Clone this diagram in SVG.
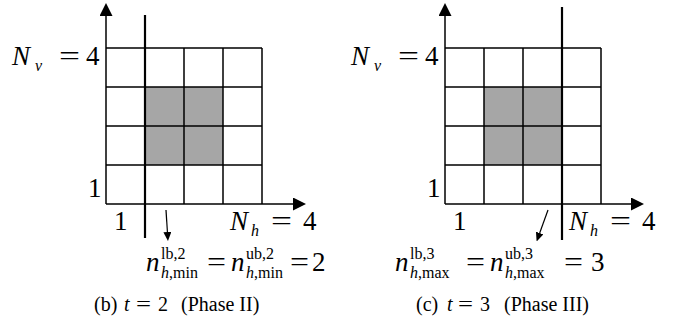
<svg xmlns="http://www.w3.org/2000/svg" width="681" height="323" viewBox="0 0 681 323">
<style>
.grid{fill:none;stroke:#000;stroke-width:1.5}
.shade{fill:#a6a6a6;stroke:none}
.axis{fill:none;stroke:#000;stroke-width:1.5}
.thick{fill:none;stroke:#000;stroke-width:2.2}
.ptr{fill:none;stroke:#000;stroke-width:1.2}
.m{font-family:"Liberation Serif","Times New Roman",serif;font-size:27px;fill:#000}
.i{font-style:italic}
.s{font-size:16px}
.cap{font-family:"Liberation Serif","Times New Roman",serif;font-size:20px;fill:#000}
</style>
<defs>
<marker id="ah" markerUnits="userSpaceOnUse" markerWidth="13" markerHeight="13" refX="0" refY="6.5" orient="auto" viewBox="0 0 13 13">
<path d="M0,0 L13,6.5 L0,13 z" fill="#000"/>
</marker>
<marker id="sh" markerUnits="userSpaceOnUse" markerWidth="9" markerHeight="8" refX="0" refY="4" orient="auto" viewBox="0 0 9 8">
<path d="M0,0 L9,4 L0,8 z" fill="#000"/>
</marker>
</defs>

<g id="panel-b">
<g id="grid-b">
<rect class="shade" x="145" y="87" width="78" height="78"/>
<path class="grid" d="M106,48 H262 M106,87 H262 M106,126 H262 M106,165 H262 M145,48 V204 M184,48 V204 M223,48 V204 M262,48 V204"/>
</g>
<g id="axes-b">
<path class="axis" d="M106,204 V16" marker-end="url(#ah)"/>
<path class="axis" d="M106,204 H293" marker-end="url(#ah)"/>
<path class="thick" d="M145,15 V238"/>
<path class="ptr" d="M166,210 L167.4,232" marker-end="url(#sh)"/>
</g>
<g id="labels-b">
<text class="m"><tspan class="i" x="12" y="65">N</tspan><tspan class="i s" x="35" y="71">v</tspan><tspan x="59" y="65" textLength="21" lengthAdjust="spacingAndGlyphs">=</tspan><tspan x="86" y="65">4</tspan></text>
<text class="m" x="88" y="197">1</text>
<text class="m" x="114" y="230">1</text>
<text class="m"><tspan class="i" x="230" y="230">N</tspan><tspan class="i s" x="251" y="236">h</tspan><tspan x="271" y="230" textLength="21" lengthAdjust="spacingAndGlyphs">=</tspan><tspan x="303" y="230">4</tspan></text>
<text class="m"><tspan class="i" x="146" y="271">n</tspan><tspan class="s" x="161" y="259">lb,2</tspan><tspan class="s i" x="161" y="278">h</tspan><tspan class="s">,min</tspan><tspan x="207" y="271" textLength="19" lengthAdjust="spacingAndGlyphs">=</tspan><tspan class="i" x="231" y="271">n</tspan><tspan class="s" x="246" y="259">ub,2</tspan><tspan class="s i" x="246" y="278">h</tspan><tspan class="s">,min</tspan><tspan x="290" y="271" textLength="19" lengthAdjust="spacingAndGlyphs">=</tspan><tspan x="312" y="271">2</tspan></text>
<text class="cap"><tspan x="94" y="311">(b)</tspan><tspan class="i" x="124" y="311">t</tspan><tspan x="136" y="311" textLength="15" lengthAdjust="spacingAndGlyphs">=</tspan><tspan x="158" y="311">2</tspan><tspan x="181" y="311">(Phase II)</tspan></text>
</g>
</g>

<g id="panel-c">
<g id="grid-c">
<rect class="shade" x="484" y="87" width="78" height="78"/>
<path class="grid" d="M445,48 H601 M445,87 H601 M445,126 H601 M445,165 H601 M484,48 V204 M523,48 V204 M562,48 V204 M601,48 V204"/>
</g>
<g id="axes-c">
<path class="axis" d="M445,204 V16" marker-end="url(#ah)"/>
<path class="axis" d="M445,204 H631" marker-end="url(#ah)"/>
<path class="thick" d="M562,7 V240"/>
<path class="ptr" d="M548,210 L539.7,233" marker-end="url(#sh)"/>
</g>
<g id="labels-c">
<text class="m"><tspan class="i" x="351" y="65">N</tspan><tspan class="i s" x="374" y="71">v</tspan><tspan x="398" y="65" textLength="21" lengthAdjust="spacingAndGlyphs">=</tspan><tspan x="425" y="65">4</tspan></text>
<text class="m" x="427" y="197">1</text>
<text class="m" x="453" y="230">1</text>
<text class="m"><tspan class="i" x="569" y="230">N</tspan><tspan class="i s" x="590" y="236">h</tspan><tspan x="610" y="230" textLength="21" lengthAdjust="spacingAndGlyphs">=</tspan><tspan x="642" y="230">4</tspan></text>
<text class="m"><tspan class="i" x="395" y="271">n</tspan><tspan class="s" x="410" y="259">lb,3</tspan><tspan class="s i" x="410" y="278">h</tspan><tspan class="s">,max</tspan><tspan x="466" y="271" textLength="19" lengthAdjust="spacingAndGlyphs">=</tspan><tspan class="i" x="490" y="271">n</tspan><tspan class="s" x="505" y="259">ub,3</tspan><tspan class="s i" x="505" y="278">h</tspan><tspan class="s">,max</tspan><tspan x="564" y="271" textLength="19" lengthAdjust="spacingAndGlyphs">=</tspan><tspan x="591" y="271">3</tspan></text>
<text class="cap"><tspan x="416" y="311">(c)</tspan><tspan class="i" x="447" y="311">t</tspan><tspan x="458" y="311" textLength="15" lengthAdjust="spacingAndGlyphs">=</tspan><tspan x="480" y="311">3</tspan><tspan x="504" y="311">(Phase III)</tspan></text>
</g>
</g>
</svg>
